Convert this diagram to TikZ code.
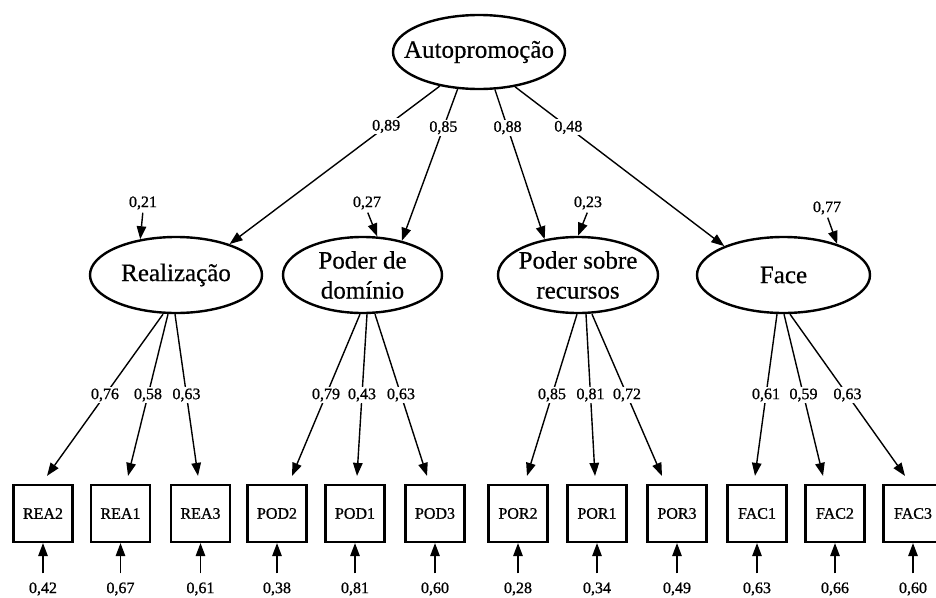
\documentclass[tikz,border=0pt]{standalone}
\usepackage{fontspec}
\setmainfont{Liberation Serif}
\newfontfamily\headfont[FakeBold=0.5]{Liberation Serif}
\newfontfamily\smallfont[FakeBold=0.9]{Liberation Serif}
\usetikzlibrary{arrows.meta,shapes.geometric}

\tikzset{
  latent/.style={draw, ellipse, line width=2.4pt, inner sep=0pt},
  lattext/.style={align=center, inner sep=0pt, font=\headfont\fontsize{25}{30}\selectfont},
  observed/.style={draw, rectangle, line width=2.2pt, minimum width=59pt,
    minimum height=57pt, inner sep=0pt, font=\smallfont\fontsize{16}{19}\selectfont},
  coef/.style={font=\smallfont\fontsize{16}{19}\selectfont, fill=white, inner sep=1.5pt},
  errlab/.style={font=\smallfont\fontsize{16}{19}\selectfont, inner sep=1pt},
  patharrow/.style={line width=1.4pt, -{Triangle[length=13pt,width=9.5pt]}},
}

\begin{document}
\begin{tikzpicture}[x=1pt, y=-1pt]
\useasboundingbox (0,0) rectangle (936,597);

% second-order factor
\node[latent, minimum width=172pt, minimum height=74pt,
      label={[lattext]center:Autopromoção}] (auto) at (479,52) {};

% first-order factors
\node[latent, minimum width=172pt, minimum height=76pt,
      label={[lattext]center:Realização}] (rea) at (176,275) {};
\node[latent, minimum width=159pt, minimum height=76pt,
      label={[lattext]center:{Poder de\\domínio}}] (pod) at (362.5,275) {};
\node[latent, minimum width=160pt, minimum height=76pt,
      label={[lattext]center:{Poder sobre\\recursos}}] (por) at (578,275) {};
\node[latent, minimum width=173pt, minimum height=76pt,
      label={[lattext]center:Face}] (fac) at (783.5,275) {};

% indicators
\node[observed] (REA2) at (43,513.5) {REA2};
\node[observed] (REA1) at (120.5,513.5) {REA1};
\node[observed] (REA3) at (200.5,513.5) {REA3};
\node[observed] (POD2) at (277,513.5) {POD2};
\node[observed] (POD1) at (355,513.5) {POD1};
\node[observed] (POD3) at (435,513.5) {POD3};
\node[observed] (POR2) at (518,513.5) {POR2};
\node[observed] (POR1) at (597,513.5) {POR1};
\node[observed] (POR3) at (677,513.5) {POR3};
\node[observed] (FAC1) at (757,513.5) {FAC1};
\node[observed] (FAC2) at (835,513.5) {FAC2};
\node[observed] (FAC3) at (913,513.5) {FAC3};

% second-order loadings
\draw[patharrow] (auto.221) -- node[coef, pos=0.255] {0,89} (rea.30);
\draw[patharrow] (auto.240) -- node[coef, pos=0.255] {0,85} (pod.41);
\draw[patharrow] (auto.293) -- node[coef, pos=0.255] {0,88} (por.133);
\draw[patharrow] (auto.316) -- node[coef, pos=0.255] {0,48} (fac.154);

% disturbances of the first-order factors
\node[errlab] (d1) at (143,203) {0,21};
\node[errlab] (d2) at (367,203) {0,27};
\node[errlab] (d3) at (588,203) {0,23};
\node[errlab] (d4) at (827,208) {0,77};
\draw[patharrow, shorten <=2pt] (d1.south) -- (rea.135);
\draw[patharrow, shorten <=2pt] (d2.south) -- (pod.69);
\draw[patharrow, shorten <=2pt] (d3.south) -- (por.90);
\draw[patharrow, shorten <=2pt] (d4.south) -- (fac.30);

% first-order loadings
\draw[patharrow] ([xshift=-13pt]rea.south) -- node[coef] {0,76} ([xshift=4pt,yshift=8pt]REA2.north);
\draw[patharrow] ([xshift=-8pt]rea.south) -- node[coef] {0,58} ([xshift=7.5pt,yshift=8pt]REA1.north);
\draw[patharrow] ([xshift=-1pt]rea.south) -- node[coef] {0,63} ([xshift=-2.5pt,yshift=8pt]REA3.north);

\draw[patharrow] ([xshift=-2.5pt]pod.south) -- node[coef] {0,79} ([xshift=15pt,yshift=8pt]POD2.north);
\draw[patharrow] ([xshift=4.5pt]pod.south) -- node[coef] {0,43} ([xshift=2pt,yshift=8pt]POD1.north);
\draw[patharrow] ([xshift=12.5pt]pod.south) -- node[coef] {0,63} ([xshift=-8pt,yshift=8pt]POD3.north);

\draw[patharrow] ([xshift=-1pt]por.south) -- node[coef] {0,85} ([xshift=9pt,yshift=8pt]POR2.north);
\draw[patharrow] ([xshift=8pt]por.south) -- node[coef] {0,81} ([xshift=-2pt,yshift=8pt]POR1.north);
\draw[patharrow] ([xshift=14pt]por.south) -- node[coef] {0,72} ([xshift=-15pt,yshift=8pt]POR3.north);

\draw[patharrow] ([xshift=-6.5pt]fac.south) -- node[coef] {0,61} ([xshift=-2pt,yshift=8pt]FAC1.north);
\draw[patharrow] ([xshift=0.5pt]fac.south) -- node[coef] {0,59} ([xshift=-12pt,yshift=8pt]FAC2.north);
\draw[patharrow] ([xshift=6.5pt]fac.south) -- node[coef] {0,63} ([xshift=-8pt,yshift=8pt]FAC3.north);

% measurement errors
\foreach \bx/\val in {REA2/{0,42}, REA1/{0,67}, REA3/{0,61}, POD2/{0,38}, POD1/{0,81}, POD3/{0,60},
                       POR2/{0,28}, POR1/{0,34}, POR3/{0,49}, FAC1/{0,63}, FAC2/{0,66}, FAC3/{0,60}} {
  \node[errlab] (e\bx) at (\bx.center |- 0,589) {\val};
  \draw[patharrow] ([yshift=8pt]e\bx.north) -- (\bx.south);
}
\end{tikzpicture}
\end{document}
